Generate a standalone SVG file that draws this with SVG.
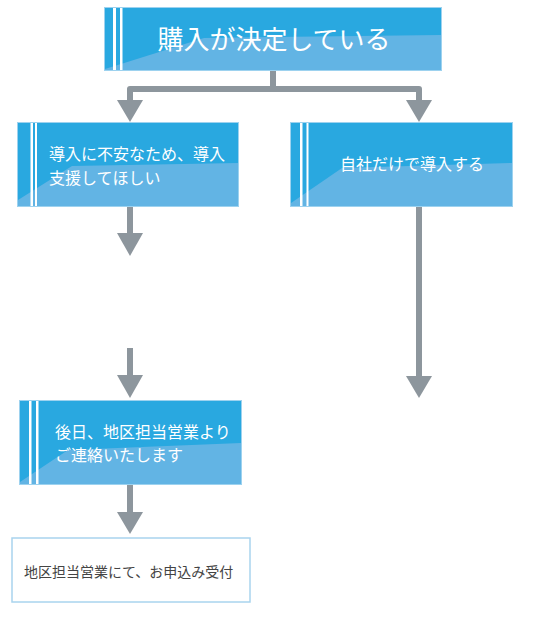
<svg xmlns="http://www.w3.org/2000/svg" width="548" height="633" viewBox="0 0 548 633">
<defs>
<style>
.box{fill:#29a8e0;stroke:#9dd2ef;stroke-width:1}
.lite{fill:#62b4e4}
.stripe{fill:#ffffff}
.txt{font-family:"Noto Sans CJK JP","Noto Sans",sans-serif;fill:#ffffff}
.line{fill:none;stroke:#8d969d;stroke-width:6;stroke-linejoin:round}
.head{fill:#8d969d}
</style>
</defs>
<rect width="548" height="633" fill="#ffffff"/>
<g id="connectors">
<path class="line" d="M273 70 V89 H130 V100 M273 89 H419 V100"/>
<polygon class="head" points="117,100 143,100 130,122"/>
<polygon class="head" points="406,100 432,100 419,122"/>
<path class="line" d="M130 206 V234"/>
<polygon class="head" points="117,233 143,233 130,256"/>
<path class="line" d="M130 348 V376"/>
<polygon class="head" points="117,375 143,375 130,398"/>
<path class="line" d="M419 206 V377"/>
<polygon class="head" points="406,376 432,376 419,398"/>
<path class="line" d="M130 485 V513"/>
<polygon class="head" points="117,512 143,512 130,534"/>
</g>
<g id="node1">
<rect class="box" x="104.5" y="7.5" width="337" height="63"/>
<polygon class="lite" points="105,70 105,69 204,38 441,35 441,70"/>
<rect class="stripe" x="113" y="8" width="3" height="62"/>
<rect class="stripe" x="120" y="8" width="2.5" height="62"/>
<text class="txt" x="274" y="49" font-size="26" text-anchor="middle">購入が決定している</text>
</g>
<g id="node2">
<rect class="box" x="17.5" y="122.5" width="221" height="84"/>
<polygon class="lite" points="18,206 18,200 72,166 238,163 238,206"/>
<rect class="stripe" x="30.5" y="123" width="2.5" height="83"/>
<rect class="stripe" x="35" y="123" width="2" height="83"/>
<text class="txt" x="49" y="160" font-size="16">導入に不安なため、導入</text>
<text class="txt" x="49" y="184" font-size="16">支援してほしい</text>
</g>
<g id="node3">
<rect class="box" x="290.5" y="122.5" width="222" height="84"/>
<polygon class="lite" points="291,206 291,203 342,168 512,163 512,206"/>
<rect class="stripe" x="300" y="123" width="2.5" height="83"/>
<rect class="stripe" x="306.5" y="123" width="2" height="83"/>
<text class="txt" x="412" y="170" font-size="16" text-anchor="middle">自社だけで導入する</text>
</g>
<g id="node4">
<rect class="box" x="19.5" y="400.5" width="222" height="84"/>
<polygon class="lite" points="20,484 20,482 68,450 241,443 241,484"/>
<rect class="stripe" x="29" y="401" width="2.5" height="83"/>
<rect class="stripe" x="36" y="401" width="2.5" height="83"/>
<text class="txt" x="55" y="438" font-size="16">後日、地区担当営業より</text>
<text class="txt" x="55" y="461" font-size="16">ご連絡いたします</text>
</g>
<g id="node5">
<rect x="12" y="538" width="238" height="64" fill="#ffffff" stroke="#a9d4ee" stroke-width="1.5"/>
<text x="24" y="577" font-size="14" font-family="'Noto Sans CJK JP','Noto Sans',sans-serif" fill="#444444">地区担当営業にて、お申込み受付</text>
</g>
</svg>
